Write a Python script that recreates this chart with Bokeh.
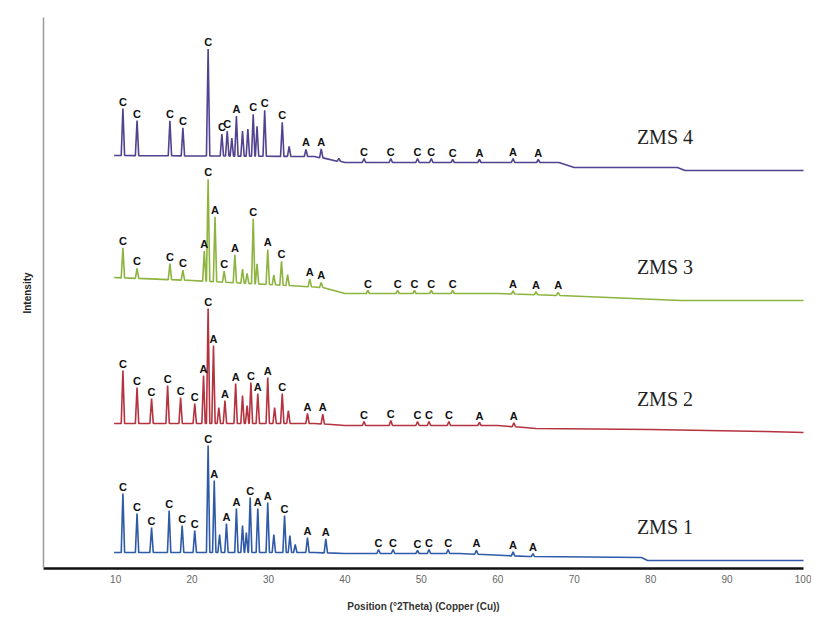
import numpy as np
from bokeh.plotting import figure
from bokeh.models import Range1d, FixedTicker
from bokeh.core.properties import value
from bokeh.embed import file_html
from bokeh.resources import INLINE

# ---------------- data ----------------
series_names = ["ZMS 1", "ZMS 2", "ZMS 3", "ZMS 4"]
x_ticks = [10, 20, 30, 40, 50, 60, 70, 80, 90, 100]

# ZMS 1
pos1 = [10.95, 12.8, 14.7, 17.0, 18.7, 20.35, 22.1, 22.9, 23.6, 24.5, 25.8, 26.6, 27.1, 27.6,
        28.6, 29.9, 30.7, 32.1, 32.8, 33.5, 35.1, 37.5, 44.4, 46.3, 49.5, 51.0, 53.5, 57.2, 62.0, 64.6]
h1 = [59, 39, 25, 42, 27, 22, 107, 72, 18, 29, 44, 27, 20, 55,
      44, 50, 18, 37, 17, 8, 15, 14, 4, 4, 3, 4, 4, 4, 4, 3]
ph1 = ["C", "C", "C", "C", "C", "C", "C", "A", "", "A", "A", "", "", "C",
       "A", "A", "", "C", "", "", "A", "A", "C", "C", "C", "C", "C", "A", "A", "A"]
bgx1 = [9.8, 36, 40, 55, 64, 78.8, 79.6, 100.3]
bgy1 = [0, 0, -1, -1, -4, -5, -8, -8]

# ZMS 2
pos2 = [10.95, 12.8, 14.7, 16.8, 18.5, 20.35, 21.5, 22.1, 22.8, 23.5, 24.3, 25.7, 26.6, 27.2, 27.7,
        28.6, 29.9, 30.8, 31.8, 32.6, 35.1, 37.1, 42.5, 46.0, 49.5, 51.0, 53.6, 57.6, 62.1]
h2 = [53, 36, 25, 38, 26, 20, 48, 115, 78, 16, 23, 40, 28, 18, 41,
      30, 46, 16, 30, 13, 10, 10, 4, 5, 4, 4, 4, 3, 4]
ph2 = ["C", "C", "C", "C", "C", "C", "A", "C", "A", "", "A", "A", "", "", "C",
       "A", "A", "", "C", "", "A", "A", "C", "C", "C", "C", "C", "A", "A"]
bgx2 = [9.8, 36, 40, 60, 65, 80, 95, 100.3]
bgy2 = [0, 0, -2, -2, -5, -6, -8, -9]

# ZMS 3
pos3 = [10.95, 12.8, 17.1, 18.8, 21.6, 22.1, 23.0, 24.2, 25.6, 26.6, 27.2, 28.0, 28.5,
        29.9, 30.7, 31.7, 32.5, 35.4, 36.9, 43.0, 46.9, 49.1, 51.3, 54.1, 62.0, 65.0, 67.9]
h3 = [30, 10, 16, 10, 30, 102, 65, 11, 28, 14, 10, 65, 20,
      35, 10, 24, 11, 8, 5, 3, 3, 3, 3, 3, 3, 3, 3]
ph3 = ["C", "C", "C", "C", "A", "C", "A", "C", "A", "", "", "C", "",
       "A", "", "C", "", "A", "A", "C", "C", "C", "C", "C", "A", "A", "A"]
bgx3 = [9.8, 20, 30, 37, 40, 60, 68, 84, 100.3]
bgy3 = [0, -3, -7, -10, -16, -16, -18, -23, -23]

# ZMS 4
pos4 = [10.95, 12.8, 17.1, 18.8, 22.1, 23.9, 24.6, 25.2, 25.8, 26.6, 27.3, 28.0, 28.5,
        29.5, 31.8, 32.7, 34.9, 36.9, 39.2, 42.5, 46.0, 49.5, 51.3, 54.1, 57.6, 62.0, 65.3]
h4 = [47, 35, 35, 28, 107, 22, 25, 18, 40, 25, 27, 42, 30,
      46, 34, 10, 7, 9, 3, 4, 4, 4, 4, 3, 3, 4, 3]
ph4 = ["C", "C", "C", "C", "C", "C", "C", "", "A", "", "", "C", "",
       "C", "C", "", "A", "A", "", "C", "C", "C", "C", "C", "A", "A", "A"]
bgx4 = [9.8, 36, 40, 68, 70, 83.5, 84.5, 100.3]
bgy4 = [0, -1, -7, -7, -12, -12, -15, -15]

# stacking offsets of the four patterns (intensity units)
offsets = [16, 145, 291, 413]
colors = ["#2e5aa8", "#b5323f", "#8cb43f", "#52428f"]

# ---------------- figure ----------------
p = figure(frame_width=760, frame_height=551, x_range=Range1d(0.56, 100), y_range=Range1d(0, 551),
           output_backend="svg", toolbar_location=None,
           min_border_left=43, min_border_right=8, min_border_top=17, min_border_bottom=46)
p.grid.visible = False
p.outline_line_color = None
p.background_fill_color = "white"

W = 0.22


def build(pos, h, bgx, bgy, off):
    pts = []
    for x, y in zip(bgx, bgy):
        if all(abs(x - q) > W for q in pos):
            pts.append((x, off + y))
    tops = []
    for q, hh in zip(pos, h):
        b = off + float(np.interp(q, bgx, bgy))
        pts += [(q - W, b), (q, b + hh), (q + W, b)]
        tops.append(b + hh)
    pts.sort()
    return [a for a, _ in pts], [b for _, b in pts], tops


data = [(pos1, h1, ph1, bgx1, bgy1), (pos2, h2, ph2, bgx2, bgy2),
        (pos3, h3, ph3, bgx3, bgy3), (pos4, h4, ph4, bgx4, bgy4)]

for (pos, h, ph, bgx, bgy), off, col, name in zip(data, offsets, colors, series_names):
    xs, ys, tops = build(pos, h, bgx, bgy, off)
    p.line(xs, ys, line_color=col, line_width=1.6)
    lx = [q for q, s in zip(pos, ph) if s]
    ly = [t for t, s in zip(tops, ph) if s]
    lt = [s for s in ph if s]
    p.text(lx, ly, text=lt, text_font=value("Liberation Sans"), text_font_style="bold",
           text_font_size="11px", text_color="#111", text_align="center",
           text_baseline="bottom", y_offset=-1)
    p.text([78.2], [off + bgy[-1] + 34], text=[name], text_font=value("Liberation Serif"),
           text_font_size="20px", text_color="#222", text_align="left",
           text_baseline="middle")

xa = p.xaxis[0]
xa.ticker = FixedTicker(ticks=x_ticks)
xa.major_tick_line_color = None
xa.minor_tick_line_color = None
xa.major_tick_in = 0
xa.major_tick_out = 0
xa.major_label_standoff = 6
xa.axis_line_width = 2.5
xa.axis_line_color = "#111"
xa.major_label_text_font = "Liberation Sans"
xa.major_label_text_font_size = "10px"
xa.major_label_text_color = "#666"
xa.axis_label = "Position (°2Theta) (Copper (Cu))"
xa.axis_label_text_font = "Liberation Sans"
xa.axis_label_text_font_size = "10px"
xa.axis_label_text_font_style = "bold"
xa.axis_label_text_color = "#333"
xa.axis_label_standoff = 15

ya = p.yaxis[0]
ya.ticker = FixedTicker(ticks=[])
ya.major_tick_line_color = None
ya.minor_tick_line_color = None
ya.axis_line_color = "#999"
ya.axis_line_width = 1.5
ya.axis_label = "Intensity"
ya.axis_label_text_font = "Liberation Sans"
ya.axis_label_text_font_size = "10px"
ya.axis_label_text_font_style = "bold"
ya.axis_label_text_color = "#222"
ya.axis_label_standoff = 11

open("out.html", "w").write(file_html(p, INLINE))
